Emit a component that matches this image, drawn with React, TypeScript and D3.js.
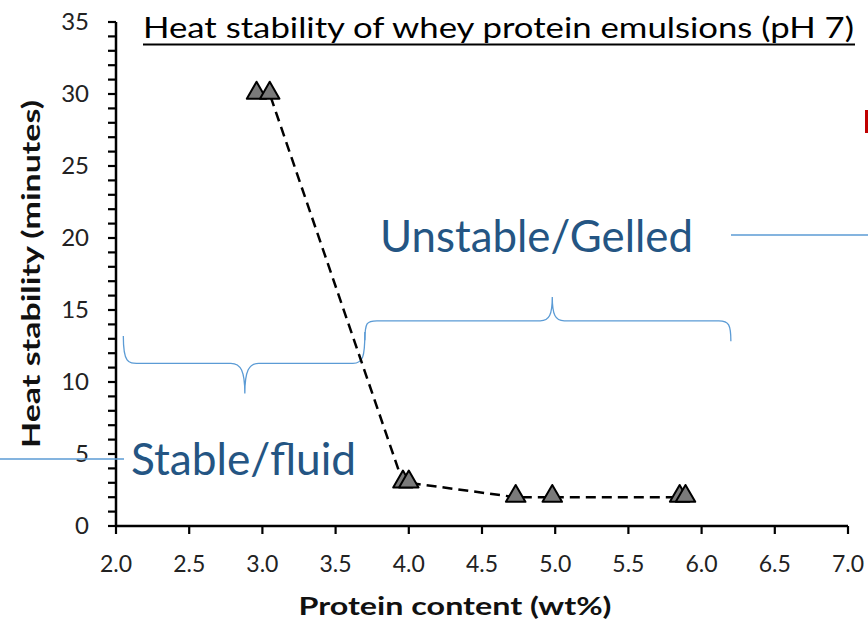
import React from "react";
import * as d3 from "d3";

const proteinContent = [2.96, 3.05, 3.96, 4.0, 4.73, 4.98, 5.85, 5.89];
const heatStability = [30, 30, 3, 3, 2, 2, 2, 2];
const xTicks = [2.0, 2.5, 3.0, 3.5, 4.0, 4.5, 5.0, 5.5, 6.0, 6.5, 7.0];
const yTicks = [0, 5, 10, 15, 20, 25, 30, 35];
const yMinorTicks = d3.range(0, 36, 1);

const W = 868, H = 622;
const FONT = "Lato, 'Open Sans', sans-serif";

export default function App() {
  const x = d3.scaleLinear().domain([2, 7]).range([116, 848]);
  const y = d3.scaleLinear().domain([0, 35]).range([526, 22]);
  const pts = proteinContent.map((p, i) => [p, heatStability[i]] as [number, number]);
  const line = d3.line<[number, number]>().x(d => x(d[0])).y(d => y(d[1]));
  const tri = d3.symbol(d3.symbolTriangle, 165)();
  const blue = "#5b9bd5";
  const textBlue = "#245583";

  const b1 = { x0: x(2.05), x1: x(3.7), xm: x(2.88), yTop: y(13.2), yMid: y(11.3), yTip: y(9.2) };
  const brace1 = `M${b1.x0},${b1.yTop} C${b1.x0},${b1.yMid + 2} ${b1.x0 + 6},${b1.yMid} ${b1.x0 + 16},${b1.yMid}
    L${b1.xm - 14},${b1.yMid} C${b1.xm - 4},${b1.yMid} ${b1.xm},${b1.yMid + 8} ${b1.xm},${b1.yTip}
    C${b1.xm},${b1.yMid + 8} ${b1.xm + 4},${b1.yMid} ${b1.xm + 14},${b1.yMid}
    L${b1.x1 - 12},${b1.yMid} C${b1.x1 - 2},${b1.yMid} ${b1.x1},${b1.yMid - 6} ${b1.x1},${b1.yTop - 4}`;
  const b2 = { x0: x(3.7), x1: x(6.2), xm: x(4.98), yBot: y(12.9), yMid: y(14.25), yTip: y(15.9) };
  const brace2 = `M${b2.x0},${b2.yBot} C${b2.x0},${b2.yMid + 2} ${b2.x0 + 2},${b2.yMid} ${b2.x0 + 12},${b2.yMid}
    L${b2.xm - 12},${b2.yMid} C${b2.xm - 3},${b2.yMid} ${b2.xm},${b2.yMid - 6} ${b2.xm},${b2.yTip}
    C${b2.xm},${b2.yMid - 6} ${b2.xm + 3},${b2.yMid} ${b2.xm + 12},${b2.yMid}
    L${b2.x1 - 12},${b2.yMid} C${b2.x1 - 2},${b2.yMid} ${b2.x1},${b2.yMid + 4} ${b2.x1},${b2.yBot + 1}`;

  return (
    <svg width={W} height={H} style={{ position: "absolute", left: 0, top: 0, background: "#fff" }} fontFamily={FONT}>
      {/* title */}
      <text x={143} y={38} fontSize={29} fill="#000" textLength={711} lengthAdjust="spacingAndGlyphs">
        Heat stability of whey protein emulsions (pH 7)
      </text>
      <line x1={143} x2={855} y1={44.5} y2={44.5} stroke="#000" strokeWidth={2} />

      {/* red clipped mark at right edge */}
      <rect x={865} y={110} width={3} height={23} fill="#c00000" />

      {/* axes */}
      <line x1={x(2)} x2={x(2)} y1={y(35)} y2={y(0)} stroke="#000" strokeWidth={2.5} />
      <line x1={x(2) - 1} x2={x(7)} y1={y(0)} y2={y(0)} stroke="#000" strokeWidth={2.5} />
      {yMinorTicks.map(t => (
        <line key={"ym" + t} x1={x(2) - 8} x2={x(2)} y1={y(t)} y2={y(t)} stroke="#000" strokeWidth={2.2} />
      ))}
      {xTicks.map(t => (
        <line key={"xt" + t} x1={x(t)} x2={x(t)} y1={y(0)} y2={y(0) + 8} stroke="#000" strokeWidth={2.2} />
      ))}
      {yTicks.map(t => (
        <text key={"yl" + t} x={89} y={y(t) + 8} fontSize={24} textAnchor="end" fill="#222">{t}</text>
      ))}
      {xTicks.map(t => (
        <text key={"xl" + t} x={x(t)} y={572} fontSize={23} textAnchor="middle" fill="#222">{t.toFixed(1)}</text>
      ))}
      <text x={455} y={615} fontSize={24} fontWeight="bold" textAnchor="middle" fill="#111" textLength={313} lengthAdjust="spacingAndGlyphs">Protein content (wt%)</text>
      <text transform={`translate(40,274) rotate(-90)`} fontSize={24} fontWeight="bold" textAnchor="middle" fill="#111" textLength={348} lengthAdjust="spacingAndGlyphs">
        Heat stability (minutes)
      </text>

      {/* annotations */}
      <text x={380} y={252} fontSize={44} fill={textBlue} textLength={313} lengthAdjust="spacingAndGlyphs">Unstable/Gelled</text>
      <line x1={731} x2={868} y1={235} y2={235} stroke={blue} strokeWidth={1.3} />
      <text x={131} y={475} fontSize={44} fill={textBlue} textLength={225} lengthAdjust="spacingAndGlyphs">Stable/fluid</text>
      <line x1={0} x2={124} y1={459} y2={459} stroke={blue} strokeWidth={1.3} />
      <path d={brace1} fill="none" stroke={blue} strokeWidth={1.3} />
      <path d={brace2} fill="none" stroke={blue} strokeWidth={1.3} />

      {/* data */}
      <path d={line(pts) || ""} fill="none" stroke="#000" strokeWidth={2.5} strokeDasharray="10,6" />
      {pts.map((d, i) => (
        <path key={i} d={tri || ""} transform={`translate(${x(d[0])},${y(d[1]) - 1})`} fill="#7a7a7a" stroke="#000" strokeWidth={2} strokeLinejoin="round" />
      ))}
    </svg>
  );
}
